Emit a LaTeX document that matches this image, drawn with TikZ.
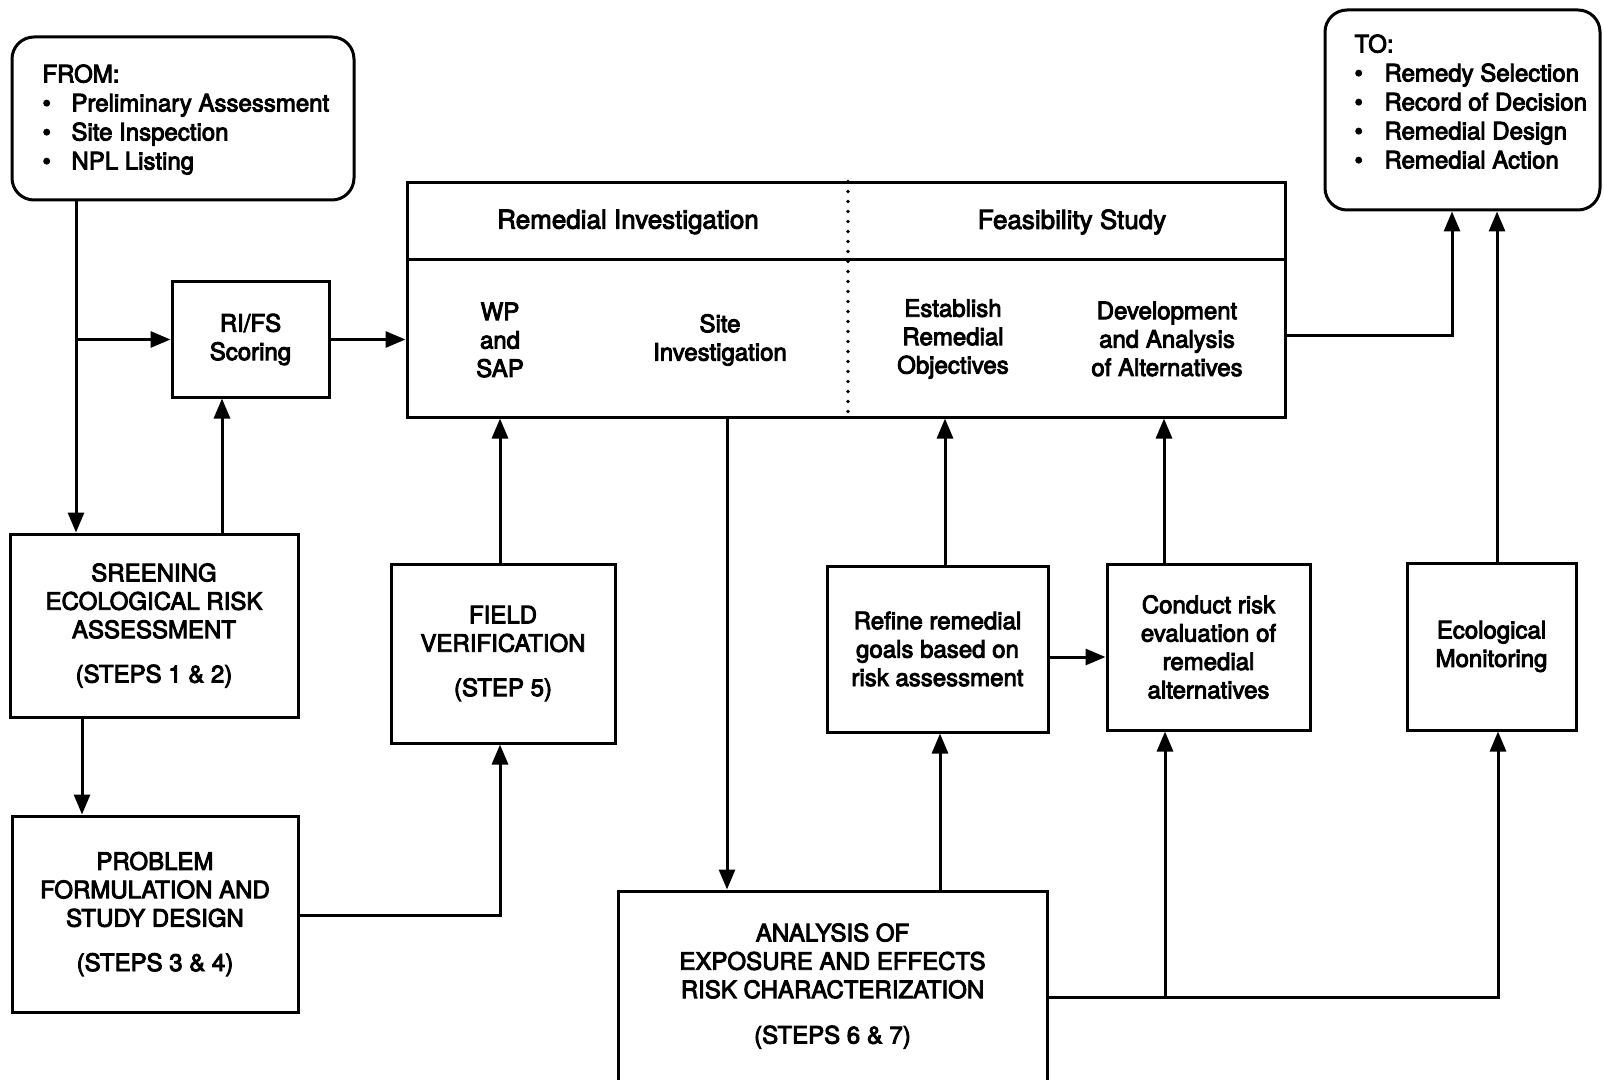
\documentclass[tikz,border=0pt]{standalone}
\usepackage{fontspec}
\setmainfont{TeX Gyre Heros}
\usetikzlibrary{arrows.meta}
\newcommand\heavyon{\special{pdf:literal direct 2 Tr 0.45 w}}
\newcommand\dfont{\fontsize{12}{14.2}\selectfont\heavyon}
\newcommand\hfont{\fontsize{13}{15}\selectfont\heavyon}
\newcommand\lfont{\fontsize{12}{14.5}\selectfont\heavyon}
\newcommand\bul{\makebox[14.5pt][l]{\textbullet}}
\begin{document}
\begin{tikzpicture}[x=0.5pt,y=-0.5pt,line width=1.5pt,
  box/.style={draw,rectangle,align=center,inner sep=0pt,font=\dfont},
  txt/.style={align=center,inner sep=0pt,font=\dfont},
  lst/.style={anchor=north west,align=left,inner sep=0pt,font=\lfont},
  arr/.style={-{Triangle[length=10pt,width=8pt]}},
  dots/.style={line width=1.8pt,line cap=round,dash pattern=on 0pt off 5pt}]
\useasboundingbox (0,0) rectangle (1604,1080);
\clip (0,0) rectangle (1604,1080);

% FROM / TO boxes
\node[box,rounded corners=11pt,minimum width=171pt,minimum height=81.5pt] (from) at (183,118.5) {};
\node[lst] (fromtext) at (41,63) {FROM:\\\bul Preliminary Assessment\\\bul Site Inspection\\\bul NPL Listing};
\node[box,rounded corners=11pt,minimum width=137.5pt,minimum height=100pt] (to) at (1462.5,110) {};
\node[lst] (totext) at (1353,33) {TO:\\\makebox[15pt][l]{\textbullet}Remedy Selection\\\makebox[15pt][l]{\textbullet}Record of Decision\\\makebox[15pt][l]{\textbullet}Remedial Design\\\makebox[15pt][l]{\textbullet}Remedial Action};

% RI/FS
\node[box,minimum width=78.5pt,minimum height=57.5pt] (rifs) at (250.5,339.5) {RI/FS\\Scoring};

% main box
\node[box,minimum width=439pt,minimum height=117pt] (main) at (846,300) {};
\draw (main.west |- 0,260) -- (main.east |- 0,260);
\draw[dots] (848,0 |- main.north) -- (848,0 |- main.south);
\node[txt,font=\hfont] (ri) at (628,222) {Remedial Investigation};
\node[txt,font=\hfont] (fs) at (1072,222) {Feasibility Study};
\node[txt] (wp) at (500,340) {WP\\and\\SAP};
\node[txt] (si) at (720,340) {Site\\Investigation};
\node[txt] (est) at (953,339) {Establish\\Remedial\\Objectives};
\node[txt] (dev) at (1167,339) {Development\\and Analysis\\of Alternatives};

% left column
\node[box,minimum width=144pt,minimum height=91.5pt] (screen) at (154,625.5) {SREENING\\ECOLOGICAL RISK\\ASSESSMENT\\[8pt](STEPS 1 \& 2)};
\node[box,minimum width=143pt,minimum height=98pt] (problem) at (155,914) {PROBLEM\\FORMULATION AND\\STUDY DESIGN\\[8pt](STEPS 3 \& 4)};
\node[box,minimum width=112pt,minimum height=89.5pt] (field) at (503,653.5) {FIELD\\VERIFICATION\\[8pt](STEP 5)};

% bottom and right
\node[box,minimum width=214.5pt,minimum height=95pt] (analysis) at (832.5,986) {ANALYSIS OF\\EXPOSURE AND EFFECTS\\RISK CHARACTERIZATION\\[8.5pt](STEPS 6 \& 7)};
\node[box,minimum width=110.5pt,minimum height=83pt] (refine) at (937.5,649) {Refine remedial\\goals based on\\risk assessment};
\node[box,minimum width=101.5pt,minimum height=83pt] (conduct) at (1208.5,647) {Conduct risk\\evaluation of\\remedial\\alternatives};
\node[box,minimum width=84.5pt,minimum height=83.5pt] (eco) at (1491.5,646.5) {Ecological\\Monitoring};

% junctions
\coordinate (j1) at (76,339.5);
\coordinate (j2) at (1165,997);

% connectors
\draw[arr] (76,0 |- from.south) -- (76,0 |- screen.north);
\draw[arr] (j1) -- (rifs.west);
\draw[arr] (222,0 |- screen.north) -- (222,0 |- rifs.south);
\draw[arr] (rifs.east) -- (main.west |- rifs.east);
\draw[arr] (82,0 |- screen.south) -- (82,0 |- problem.north);
\draw[arr] (problem.east |- 0,915) -| (500,0 |- field.south);
\draw[arr] (500,0 |- field.north) -- (500,0 |- main.south);
\draw[arr] (727,0 |- main.south) -- (727,0 |- analysis.north);
\draw[arr] (945,0 |- refine.north) -- (945,0 |- main.south);
\draw[arr] (1164,0 |- conduct.north) -- (1164,0 |- main.south);
\draw[arr] (refine.east |- 0,657) -- (conduct.west |- 0,657);
\draw[arr] (940,0 |- analysis.north) -- (940,0 |- refine.south);
\draw[arr] (analysis.east |- j2) -| (1498,0 |- eco.south);
\draw[arr] (j2) -- (1165,0 |- conduct.south);
\draw[arr] (main.east |- 0,336) -| (1452,0 |- to.south);
\draw[arr] (1497,0 |- eco.north) -- (1497,0 |- to.south);
\end{tikzpicture}
\end{document}
